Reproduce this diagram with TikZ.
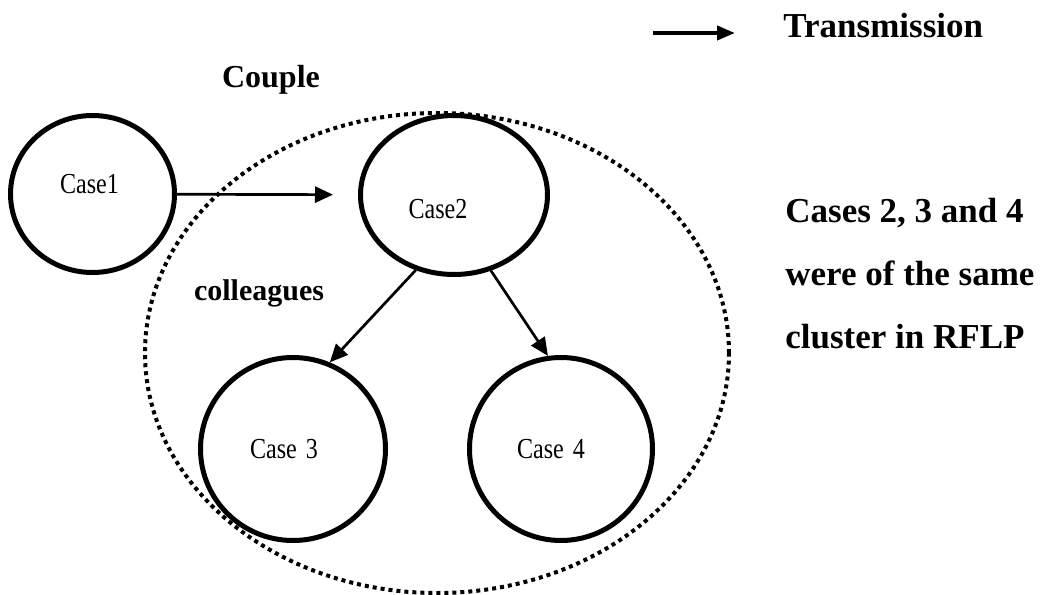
\documentclass[tikz,border=0pt]{standalone}
\usepackage{fontspec}
\setmainfont{Liberation Serif}
\newfontfamily\casefont[FakeStretch=0.83]{Liberation Serif}
\usetikzlibrary{shapes.geometric,arrows.meta}
\tikzset{
  case/.style={ellipse, draw, line width=2.5pt, fill=white, inner sep=0pt},
  every label/.style={font=\casefont\fontsize{14.5}{14.5}\selectfont, inner sep=0pt},
  cluster/.style={ellipse, draw, line width=2pt, dash pattern=on 2pt off 2pt, inner sep=0pt},
  trans/.style={-{Triangle[length=9pt,width=8pt]}, line width=1.35pt},
  lbl/.style={font=\bfseries\fontsize{17.5}{21}\selectfont, inner sep=0pt}
}

\begin{document}
\begin{tikzpicture}[x=0.5pt,y=-0.5pt]
\useasboundingbox (0,0) rectangle (1041,595);
% cluster of cases 2, 3 and 4
\node[cluster, minimum width=292pt, minimum height=240pt] (cluster) at (437,353) {};
\node[case, minimum width=82pt, minimum height=78.5pt, label={[xshift=-1.5pt,yshift=5pt]center:Case1}] (case1) at (92.5,194) {};
\node[case, minimum width=93.5pt, minimum height=79.5pt, label={[xshift=-8pt,yshift=-7pt]center:Case2}] (case2) at (454,195) {};
\node[case, minimum width=92.5pt, minimum height=91.5pt, label={[xshift=-4.5pt]center:Case\hspace{4.5pt}3}] (case3) at (293,449) {};
\node[case, minimum width=91.5pt, minimum height=91.5pt, label={[xshift=-5pt]center:Case\hspace{4.5pt}4}] (case4) at (561,449) {};
\draw[trans, shorten >=12.5pt] (case1) -- (case2);
\draw[trans] (case2.243) -- (case3.67);
\draw[trans] (case2.296) -- (case4.98);
\node[font=\bfseries\fontsize{16}{16}\selectfont, inner sep=0pt, anchor=base] (couple) at (271,87) {Couple};
\node[font=\bfseries\fontsize{15}{15}\selectfont, inner sep=0pt, anchor=base] (colleagues) at (259,300) {colleagues};
% legend
\coordinate (key-from) at (653,33);
\coordinate (key-to) at (735,33);
\draw[-{Triangle[length=9pt,width=7pt]}, line width=2pt] (key-from) -- (key-to);
\node[lbl, anchor=base west] (key) at (783,37) {Transmission};
\node[lbl, anchor=base west] (note1) at (785,222) {Cases 2, 3 and 4};
\node[lbl, anchor=base west] (note2) at (785,285) {were of the same};
\node[lbl, anchor=base west] (note3) at (785,348) {cluster in RFLP};
\end{tikzpicture}
\end{document}
